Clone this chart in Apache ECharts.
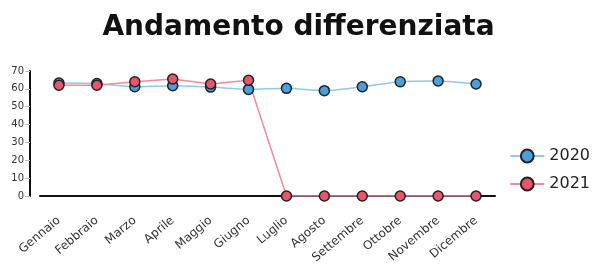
<!DOCTYPE html>
<html>
<head>
<meta charset="utf-8">
<script src="https://cdn.jsdelivr.net/npm/echarts@6/dist/echarts.min.js"></script>
<style>
  html, body { margin: 0; padding: 0; background: #fff; }
  #chart { width: 597px; height: 268px; }
</style>
</head>
<body>
<div id="chart"></div>
<script>
// mesi dell'anno
const mesi = ['Gennaio', 'Febbraio', 'Marzo', 'Aprile', 'Maggio', 'Giugno',
  'Luglio', 'Agosto', 'Settembre', 'Ottobre', 'Novembre', 'Dicembre']
const dati2020 = [63.3, 63, 61.2, 61.8, 61, 59.7, 60.3, 59, 61.2, 64, 64.4, 62.7]
const dati2021 = [62, 62, 64, 65.5, 62.7, 64.8, 0, 0, 0, 0, 0, 0]
const yTicks = [0, 10, 20, 30, 40, 50, 60, 70]

const chart = echarts.init(document.getElementById('chart'))

function serie(name, data, line, fill, smooth) {
  return {
    name: name,
    type: 'line',
    data: data,
    smooth: smooth,
    symbol: 'circle',
    symbolSize: 10,
    lineStyle: { color: line, width: 1.5 },
    itemStyle: { color: fill, borderColor: '#222', borderWidth: 1.5 }
  }
}

chart.setOption({
  animation: false,
  title: {
    text: 'Andamento differenziata',
    left: 'center',
    top: 9,
    textStyle: { fontFamily: 'DejaVu Sans', fontWeight: 'bold', fontSize: 28, color: '#111' }
  },
  legend: {
    orient: 'vertical',
    right: 2,
    top: 143,
    itemWidth: 34,
    itemHeight: 16,
    itemGap: 12,
    textStyle: { fontFamily: 'DejaVu Sans', fontSize: 16, color: '#222' },
    data: ['2020', '2021']
  },
  grid: { left: 40, right: 102, top: 71, bottom: 72 },
  xAxis: {
    type: 'category',
    data: mesi,
    offset: 10,
    boundaryGap: true,
    axisLine: { lineStyle: { color: '#111', width: 2 } },
    axisTick: { length: 6, lineStyle: { color: '#bbb' } },
    axisLabel: {
      rotate: 40,
      fontFamily: 'DejaVu Sans',
      fontSize: 12,
      color: '#333',
      margin: 13
    }
  },
  yAxis: {
    type: 'value',
    min: 0,
    max: 70,
    interval: 10,
    offset: 10,
    axisLine: { show: true, lineStyle: { color: '#111', width: 2 } },
    axisTick: { show: true, length: 5, lineStyle: { color: '#bbb' } },
    splitLine: { show: false },
    axisLabel: {
      fontFamily: 'DejaVu Sans',
      fontSize: 10,
      color: '#333',
      margin: 6,
      formatter: v => yTicks.includes(v) ? String(v) : ''
    }
  },
  series: [
    serie('2020', dati2020, '#8ec9ee', '#4a9fdc', 0.25),
    serie('2021', dati2021, '#f58a9c', '#e8566c', false)
  ]
})
</script>
</body>
</html>
